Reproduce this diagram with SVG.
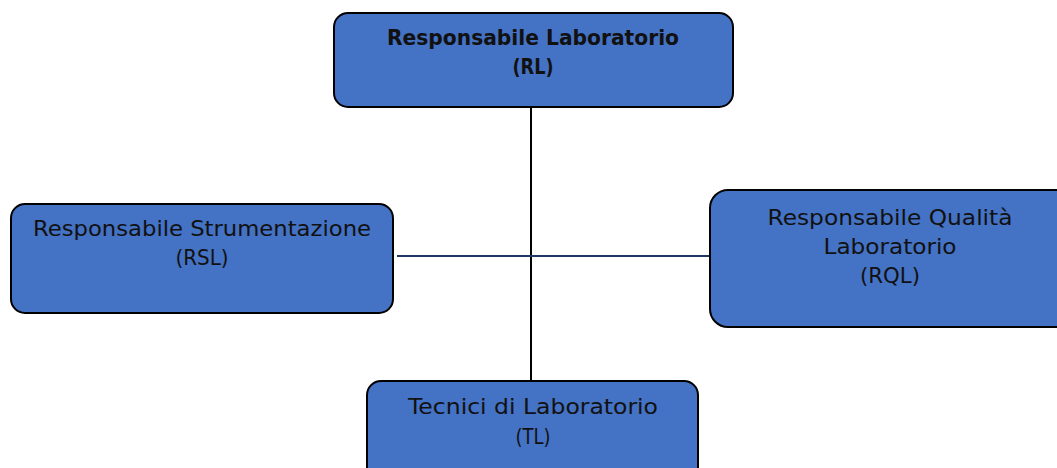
<svg xmlns="http://www.w3.org/2000/svg" width="1057" height="468" viewBox="0 0 1057 468">
<style>
.box{fill:#4472c4;stroke:#000;stroke-width:2}
.t{font-family:"DejaVu Sans","Liberation Sans",sans-serif;font-size:21px;fill:#111;text-anchor:middle}
.b{font-weight:bold}
</style>
<rect width="1057" height="468" fill="#fff"/>
<g id="connectors">
<line x1="531" y1="107" x2="531" y2="381" stroke="#000" stroke-width="2"/>
<line x1="397" y1="256" x2="710" y2="256" stroke="#1f3864" stroke-width="2"/>
</g>
<g id="RL">
<rect class="box" x="334" y="13" width="399" height="94" rx="14"/>
<text class="t b" x="533" y="45" textLength="292" lengthAdjust="spacingAndGlyphs">Responsabile Laboratorio</text>
<text class="t b" x="533" y="74" textLength="41" lengthAdjust="spacingAndGlyphs">(RL)</text>
</g>
<g id="RSL">
<rect class="box" x="11" y="204" width="382" height="109" rx="14"/>
<text class="t" x="202" y="236" textLength="338" lengthAdjust="spacingAndGlyphs">Responsabile Strumentazione</text>
<text class="t" x="202" y="265" textLength="53" lengthAdjust="spacingAndGlyphs">(RSL)</text>
</g>
<g id="RQL">
<rect class="box" x="710" y="190" width="370" height="137" rx="18"/>
<text class="t" x="890" y="225" textLength="245" lengthAdjust="spacingAndGlyphs">Responsabile Qualità</text>
<text class="t" x="890" y="254" textLength="133" lengthAdjust="spacingAndGlyphs">Laboratorio</text>
<text class="t" x="890" y="283" textLength="60" lengthAdjust="spacingAndGlyphs">(RQL)</text>
</g>
<g id="TL">
<rect class="box" x="367" y="381" width="331" height="110" rx="14"/>
<text class="t" x="533" y="414" textLength="250" lengthAdjust="spacingAndGlyphs">Tecnici di Laboratorio</text>
<text class="t" x="533" y="444" textLength="35" lengthAdjust="spacingAndGlyphs">(TL)</text>
</g>
</svg>
